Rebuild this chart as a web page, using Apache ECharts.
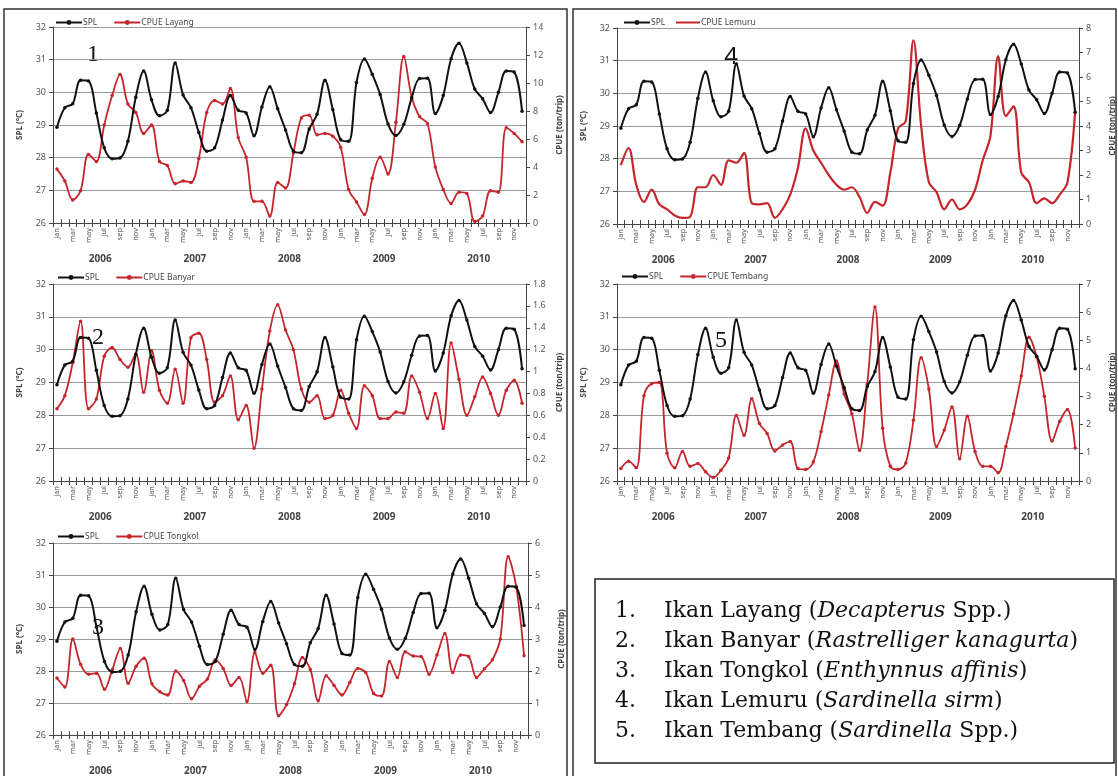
<!DOCTYPE html>
<html><head><meta charset="utf-8">
<script src="https://cdn.jsdelivr.net/npm/echarts@6/dist/echarts.min.js"></script>
<style>html,body{margin:0;padding:0;background:#fff}#c{width:1118px;height:776px}</style>
</head><body><div id="c"></div>
<script>
const months = ['jan','feb','mar','apr','may','jun','jul','aug','sep','oct','nov','dec'];
const years = ['2006','2007','2008','2009','2010'];
const leftTicks = [26, 32, 1];

const spl = [28.93,29.53,29.65,30.37,30.35,29.37,28.3,27.97,27.99,28.5,29.85,30.65,
  29.77,29.28,29.45,30.9,29.92,29.53,28.77,28.2,28.3,29.15,29.9,29.45,
  29.37,28.67,29.55,30.17,29.5,28.85,28.2,28.15,28.88,29.33,30.37,29.47,
  28.55,28.5,30.3,31.02,30.55,29.93,29.03,28.68,29.02,29.83,30.42,30.43,
  29.35,29.9,31.03,31.5,30.9,30.1,29.8,29.38,30.0,30.65,30.62,29.42];

const cpueLayang = [3.85,3.0,1.65,2.3,4.9,4.4,7.0,9.1,10.6,8.5,7.9,6.4,
  7.0,4.4,4.1,2.8,3.0,2.9,4.6,7.9,8.75,8.5,9.6,6.1,
  4.7,1.55,1.55,0.5,2.9,2.5,5.0,7.5,7.7,6.3,6.4,6.2,
  5.4,2.4,1.5,0.6,3.2,4.7,3.5,7.2,11.9,9.0,7.6,7.1,
  4.0,2.4,1.4,2.2,2.1,0.1,0.5,2.3,2.2,6.8,6.4,5.8];

const cpueBanyar = [0.66,0.78,1.08,1.46,0.66,0.75,1.14,1.22,1.11,1.04,1.16,0.81,
  1.19,0.83,0.71,1.02,0.71,1.31,1.35,1.11,0.72,0.78,0.96,0.56,
  0.69,0.30,0.84,1.37,1.61,1.38,1.20,0.84,0.72,0.78,0.57,0.60,
  0.83,0.62,0.48,0.87,0.78,0.57,0.57,0.63,0.62,0.96,0.81,0.57,
  0.80,0.48,1.26,0.93,0.60,0.77,0.95,0.80,0.60,0.83,0.92,0.71];

const cpueTongkol = [1.78,1.5,3.0,2.2,1.9,1.93,1.43,2.05,2.7,1.62,2.15,2.4,
  1.6,1.35,1.25,2.0,1.7,1.13,1.52,1.75,2.35,2.08,1.55,1.8,
  1.05,2.58,1.93,2.18,0.6,0.95,1.6,2.42,2.05,1.07,1.85,1.55,
  1.25,1.65,2.08,1.95,1.3,1.22,2.3,1.8,2.6,2.47,2.45,1.9,
  2.5,3.17,1.95,2.5,2.45,1.8,2.07,2.35,3.0,5.57,4.65,2.48];

const cpueLemuru = [2.4,3.1,1.6,0.9,1.4,0.8,0.6,0.35,0.25,0.3,1.5,1.5,
  2.0,1.6,2.6,2.5,2.9,0.85,0.8,0.85,0.25,0.6,1.2,2.3,
  3.9,3.0,2.5,2.0,1.6,1.4,1.5,1.1,0.45,0.9,0.75,2.1,
  3.9,4.2,7.5,4.0,1.7,1.3,0.6,1.0,0.6,0.8,1.4,2.6,
  3.6,6.85,4.4,4.8,2.1,1.7,0.85,1.05,0.85,1.2,1.7,4.6];

const cpueTembang = [0.44,0.7,0.47,3.03,3.46,3.5,0.99,0.47,1.05,0.52,0.62,0.33,
  0.12,0.38,0.82,2.33,1.63,2.92,2.04,1.69,1.07,1.28,1.4,0.44,
  0.41,0.68,1.75,3.06,4.26,3.09,2.39,1.09,3.44,6.18,1.87,0.52,
  0.41,0.64,2.16,4.38,3.27,1.23,1.81,2.63,0.79,2.3,1.05,0.52,
  0.52,0.29,1.23,2.39,3.73,5.11,4.41,3.01,1.42,2.12,2.54,1.17];

const cpueNames = ['CPUE Layang','CPUE Banyar','CPUE Tongkol','CPUE Lemuru','CPUE Tembang'];
const cpueMax = [14, 1.8, 6, 8, 7];
const cpueStep = [2, 0.2, 1, 1, 1];
const panelNums = ['1','2','3','4','5'];
const legendLines = [
  ['1.', 'Ikan Layang (', 'Decapterus', ' Spp.)'],
  ['2.', 'Ikan Banyar (', 'Rastrelliger kanagurta', ')'],
  ['3.', 'Ikan Tongkol (', 'Enthynnus affinis', ')'],
  ['4.', 'Ikan Lemuru (', 'Sardinella sirm', ')'],
  ['5.', 'Ikan Tembang (', 'Sardinella', ' Spp.)']
];

const categories = years.flatMap(y => months.map(m => m + ' ' + y));
const cpueData = [cpueLayang, cpueBanyar, cpueTongkol, cpueLemuru, cpueTembang];

// layout (pixels)
const layout = [
  {left:53, width:473, top:27, height:196, legLeft:50, legTop:13, num:[93,55], numFont:'Liberation Serif'},
  {left:53, width:473, top:284, height:197, legLeft:52, legTop:268, num:[98,338], numFont:'Liberation Serif'},
  {left:53, width:475, top:543, height:197, legLeft:52, legTop:527, num:[98,628], numFont:'Liberation Serif'},
  {left:617, width:471, top:28, height:196, legLeft:618, legTop:13, num:[731,57], numFont:'Noto Sans'},
  {left:617, width:471, top:284, height:197, legLeft:616, legTop:267, num:[721,341], numFont:'Liberation Serif'}
];

const RED = '#c5262c', BLACK = '#111';
const FONT = 'Noto Sans';
const grid = [], xAxis = [], yAxis = [], series = [], legend = [], graphic = [];
const legText = {fontSize:8.5, color:'#444', fontFamily:FONT, padding:[0,0,0,-4]};

layout.forEach((L, i) => {
  grid.push({left:L.left, top:L.top, width:L.width, height:L.height, containLabel:false});
  const xBase = xAxis.length;
  xAxis.push({
    gridIndex:i, type:'category', data:categories, boundaryGap:true, position:'bottom',
    axisLine:{lineStyle:{color:'#444', width:1}},
    axisTick:{show:true, interval:0, length:4, lineStyle:{color:'#444'}},
    axisLabel:{interval:1, rotate:90, fontSize:7.5, color:'#555', margin:5, fontFamily:FONT,
      formatter: v => v.split(' ')[0]},
    splitLine:{show:false}
  });
  xAxis.push({
    gridIndex:i, type:'category', data:categories, boundaryGap:true, position:'bottom',
    axisLine:{show:false},
    axisTick:{show:true, inside:true, interval:0, length:4, lineStyle:{color:'#444'}},
    axisLabel:{show:false}, splitLine:{show:false}
  });
  xAxis.push({
    gridIndex:i, type:'category', data:years, position:'bottom', offset:31,
    axisLine:{show:false}, axisTick:{show:false},
    axisLabel:{fontSize:10, fontWeight:'bold', color:'#444', margin:0, fontFamily:FONT},
    splitLine:{show:false}
  });
  const yBase = yAxis.length;
  yAxis.push({
    gridIndex:i, type:'value', position:'left', min:leftTicks[0], max:leftTicks[1], interval:leftTicks[2],
    name:'SPL (°C)', nameLocation:'middle', nameGap:29, nameRotate:90,
    nameTextStyle:{fontSize:8, fontWeight:'bold', color:'#444', fontFamily:FONT},
    axisLine:{show:true, lineStyle:{color:'#444'}},
    axisTick:{show:true, length:4, lineStyle:{color:'#444'}},
    axisLabel:{fontSize:9, color:'#555', margin:7, fontFamily:FONT},
    splitLine:{show:true, lineStyle:{color:'#9a9a9a', width:1}}
  });
  yAxis.push({
    gridIndex:i, type:'value', position:'right', min:0, max:cpueMax[i], interval:cpueStep[i],
    name:'CPUE (ton/trip)', nameLocation:'middle', nameGap:30, nameRotate:90,
    nameTextStyle:{fontSize:8, fontWeight:'bold', color:'#444', fontFamily:FONT},
    axisLine:{show:true, lineStyle:{color:'#444'}},
    axisTick:{show:true, length:4, lineStyle:{color:'#444'}},
    axisLabel:{fontSize:9, color:'#555', margin:7, fontFamily:FONT,
      formatter: v => String(Number(v.toFixed(1)))},
    splitLine:{show:false}
  });
  series.push({
    name:'SPL', type:'line', xAxisIndex:xBase, yAxisIndex:yBase, data:spl, smooth:0.35,
    symbol:'circle', symbolSize:3.5, showSymbol:true,
    lineStyle:{color:BLACK, width:2}, itemStyle:{color:BLACK}, z:3
  });
  const noMarker = (i === 3);
  series.push({
    name:cpueNames[i], type:'line', xAxisIndex:xBase, yAxisIndex:yBase + 1, data:cpueData[i], smooth:0.35,
    symbol: noMarker ? 'none' : 'circle', symbolSize:3.5,
    lineStyle:{color:RED, width:noMarker ? 2.2 : 1.8}, itemStyle:{color:RED}, z:2
  });
  if (noMarker) {
    legend.push({
      data:['SPL'], left:L.legLeft, top:L.legTop, itemWidth:26, itemHeight:6, selectedMode:false, textStyle:legText
    });
    legend.push({
      data:[{name:cpueNames[i], icon:'rect'}], left:L.legLeft + 53, top:L.legTop,
      itemWidth:24, itemHeight:2, selectedMode:false, textStyle:legText
    });
  } else {
    legend.push({
      data:['SPL', cpueNames[i]], left:L.legLeft, top:L.legTop, orient:'horizontal',
      itemWidth:26, itemHeight:6, itemGap:16, selectedMode:false, textStyle:legText
    });
  }
  graphic.push({
    type:'text', x:L.num[0], y:L.num[1],
    style:{text:panelNums[i], font:'24px "' + L.numFont + '"', fill:'#111', align:'center', verticalAlign:'middle'}
  });
});

// column frames
graphic.push({type:'rect', shape:{x:4, y:9, width:563, height:800}, style:{fill:'none', stroke:'#333', lineWidth:1.5}});
graphic.push({type:'rect', shape:{x:573, y:9, width:543, height:800}, style:{fill:'none', stroke:'#333', lineWidth:1.5}});
// species box
graphic.push({type:'rect', shape:{x:595, y:579, width:519, height:184}, style:{fill:'#fff', stroke:'#222', lineWidth:1.5}, z:5});
legendLines.forEach((ln, k) => {
  const y = 611 + k * 30;
  graphic.push({type:'text', x:615, y:y, z:6,
    style:{text:ln[0], font:'22px "DejaVu Serif"', fill:'#111', verticalAlign:'middle'}});
  graphic.push({type:'text', x:664, y:y, z:6,
    style:{text: ln[1] + '{i|' + ln[2] + '}' + ln[3], font:'22px "DejaVu Serif"', fill:'#111', verticalAlign:'middle',
      rich:{i:{fontStyle:'italic', fontFamily:'DejaVu Serif', fontSize:22, fill:'#111'}}}});
});

const chart = echarts.init(document.getElementById('c'), null, {renderer:'canvas'});
chart.setOption({
  animation:false, backgroundColor:'#fff',
  grid, xAxis, yAxis, series, legend, graphic
});
</script></body></html>
